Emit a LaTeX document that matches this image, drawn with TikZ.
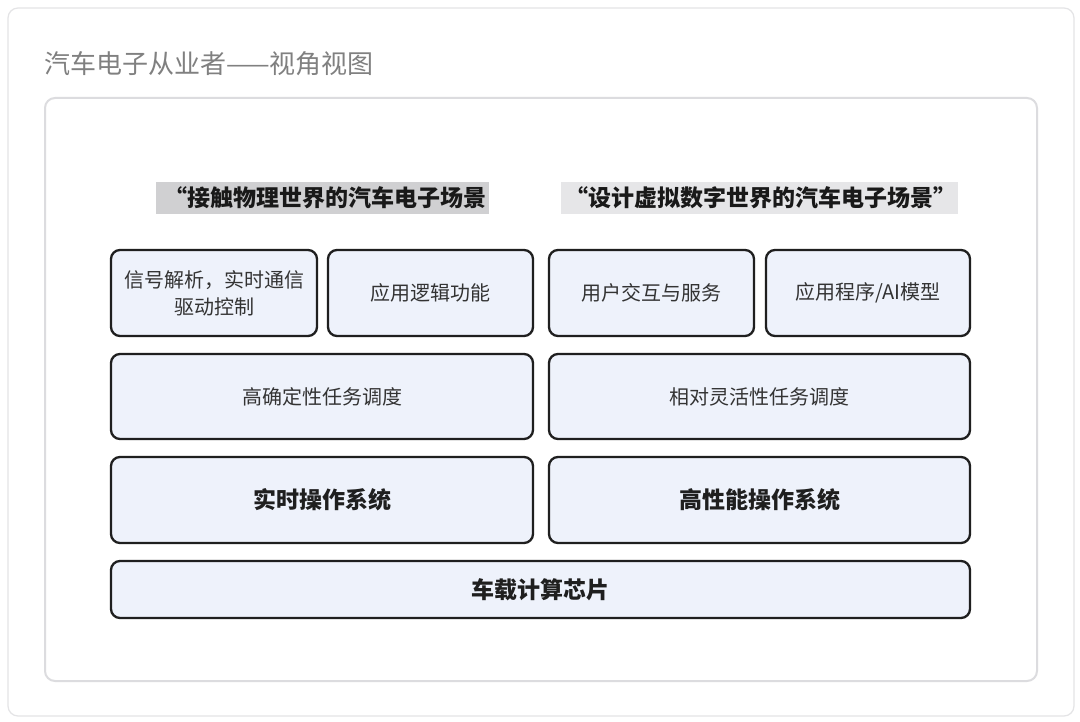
\documentclass[tikz,border=0pt]{standalone}
\usepackage{fontspec}
\setmainfont{Noto Sans CJK SC}
\begin{document}
\begin{tikzpicture}[x=1pt,y=-1pt,
  blk/.style={draw=black!88, line width=2.3pt, rounded corners=9pt, fill=boxfill, inner sep=0pt},
  lbl/.style={font=\fontsize{20}{27}\selectfont, text=black!80, align=center},
  blbl/.style={font=\fontsize{23}{28}\selectfont\bfseries, text=black!88},
  hdr/.style={inner sep=0pt, font=\fontsize{23}{28}\selectfont\bfseries, text=black!90}
]
\definecolor{boxfill}{HTML}{EEF2FB}
\definecolor{framegray}{HTML}{E4E4E6}
\definecolor{innergray}{HTML}{DCDCDF}
\definecolor{hdrdark}{HTML}{D0D0D2}
\definecolor{hdrlight}{HTML}{E6E6E8}
\useasboundingbox (0,0) rectangle (1080,722);
\fill[white] (0,0) rectangle (1080,722);
% outer frame
\draw[framegray, line width=1.2pt, rounded corners=10pt] (8,8) rectangle (1074,716);
\node[anchor=west, inner sep=0pt, font=\fontsize{26}{30}\selectfont, text=black!50] (title) at (44,64) {汽车电子从业者——视角视图};
% inner frame
\draw[innergray, line width=2pt, rounded corners=10pt] (45,98) rectangle (1037,681);
% headers
\fill[hdrdark] (156,182) rectangle (489,214);
\node[hdr, anchor=east] (h1) at (487,198) {“接触物理世界的汽车电子场景};
\fill[hdrlight] (561,182) rectangle (958,214);
\node[hdr] (h2) at (761,198) {“设计虚拟数字世界的汽车电子场景”};
% row 1
\draw[blk] (111,250) rectangle (317,336);
\node[lbl] (b1) at (214,293) {信号解析，实时通信\\驱动控制};
\draw[blk] (328,250) rectangle (533,336);
\node[lbl] (b2) at (430.5,293) {应用逻辑功能};
\draw[blk] (549,250) rectangle (754,336);
\node[lbl] (b3) at (651.5,293) {用户交互与服务};
\draw[blk] (766,250) rectangle (970,336);
\node[lbl] (b4) at (868,293) {应用程序/AI模型};
% row 2
\draw[blk] (111,354) rectangle (533,439);
\node[lbl] (s1) at (322,396.5) {高确定性任务调度};
\draw[blk] (549,354) rectangle (970,439);
\node[lbl] (s2) at (759.5,396.5) {相对灵活性任务调度};
% row 3
\draw[blk] (111,457) rectangle (533,543);
\node[blbl] (os1) at (322,500) {实时操作系统};
\draw[blk] (549,457) rectangle (970,543);
\node[blbl] (os2) at (759.5,500) {高性能操作系统};
% row 4
\draw[blk] (111,561) rectangle (970,618);
\node[blbl] (chip) at (540.5,589.5) {车载计算芯片};
\end{tikzpicture}
\end{document}
